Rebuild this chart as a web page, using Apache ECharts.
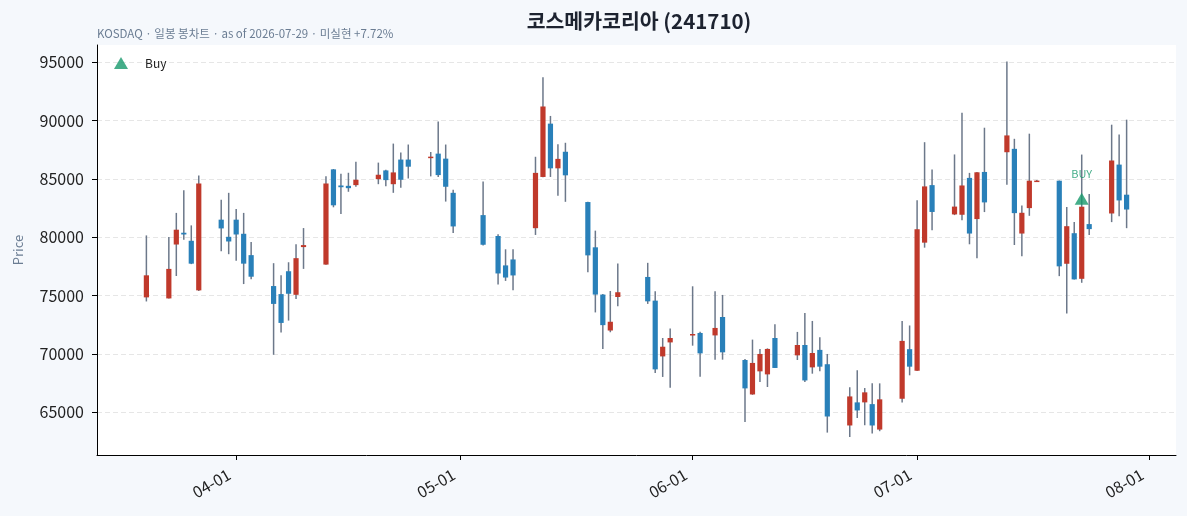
<!DOCTYPE html>
<html>
<head>
<meta charset="UTF-8">
<title>코스메카코리아 (241710)</title>
<script src="https://cdn.jsdelivr.net/npm/echarts@6/dist/echarts.min.js"></script>
<style>
  html, body { margin: 0; padding: 0; background: #f5f8fc; }
  #main { width: 1187px; height: 516px; }
</style>
</head>
<body>
<div id="main"></div>
<script type="text/javascript">
// 일봉 데이터
var dates = ['2026-03-20','2026-03-23','2026-03-24','2026-03-25','2026-03-26','2026-03-27','2026-03-30','2026-03-31',
  '2026-04-01','2026-04-02','2026-04-03','2026-04-06','2026-04-07','2026-04-08','2026-04-09','2026-04-10',
  '2026-04-13','2026-04-14','2026-04-15','2026-04-16','2026-04-17','2026-04-20','2026-04-21','2026-04-22',
  '2026-04-23','2026-04-24','2026-04-27','2026-04-28','2026-04-29','2026-04-30','2026-05-04','2026-05-06',
  '2026-05-07','2026-05-08','2026-05-11','2026-05-12','2026-05-13','2026-05-14','2026-05-15','2026-05-18',
  '2026-05-19','2026-05-20','2026-05-21','2026-05-22','2026-05-26','2026-05-27','2026-05-28','2026-05-29',
  '2026-06-01','2026-06-02','2026-06-04','2026-06-05','2026-06-08','2026-06-09','2026-06-10','2026-06-11',
  '2026-06-12','2026-06-15','2026-06-16','2026-06-17','2026-06-18','2026-06-19','2026-06-22','2026-06-23',
  '2026-06-24','2026-06-25','2026-06-26','2026-06-29','2026-06-30','2026-07-01','2026-07-02','2026-07-03',
  '2026-07-06','2026-07-07','2026-07-08','2026-07-09','2026-07-10','2026-07-13','2026-07-14','2026-07-15',
  '2026-07-16','2026-07-17','2026-07-20','2026-07-21','2026-07-22','2026-07-23','2026-07-24','2026-07-27',
  '2026-07-28','2026-07-29'];
var opens = [74850,74760,79380,80390,79700,75450,81510,80040,
  81510,80300,78470,75820,75130,77090,75070,79160,
  77660,85820,84440,84410,84470,84980,85730,84550,
  86660,86660,86790,87170,86740,83810,81900,80110,
  77590,78100,80780,85170,89740,85910,87330,83020,
  79140,75090,72010,74880,76600,74570,69790,70990,
  71590,71800,71590,73170,69480,66530,68510,68250,
  71370,69880,70770,68850,70350,69120,63870,65850,
  65850,65700,63520,66160,70410,68570,79540,84470,
  81960,81930,85090,81560,85600,87290,87580,80320,
  82500,84780,84850,77730,80350,76440,81130,82040,
  86230,83650];
var closes = [76740,77290,80650,80240,77740,84610,80760,79640,
  80240,77740,76620,74290,72660,75160,78210,79330,
  84610,82740,84290,84210,84930,85360,84900,85560,
  84930,86050,86910,85330,84330,80930,79360,76900,
  76550,76730,85520,91210,85910,86720,85310,78450,
  75090,72470,72760,75290,74510,68680,70620,71370,
  71710,70050,72230,70140,67050,69230,70000,70430,
  68800,70770,67730,70080,68910,64640,66360,65160,
  66710,63870,66110,71120,68910,80680,84360,82170,
  82630,84440,80320,85570,82990,88730,82070,82100,
  84850,84860,77510,80950,76390,82620,80700,86580,
  83160,82380];
var lows = [74500,74750,76680,79790,77700,75400,78810,78550,
  77980,75990,76400,69930,71830,72860,74700,77290,
  77650,82570,82000,83900,84330,84550,84380,83810,
  84240,85040,85220,85160,83060,80360,79300,75950,
  76260,75460,80200,85150,85170,83560,83040,77010,
  73560,70430,71860,74080,74290,68370,68030,67110,
  70710,68050,69510,69510,64160,66500,67600,67170,
  68790,69480,67600,68310,68520,63260,62890,64520,
  63890,63180,63380,65850,68170,68550,79110,80600,
  81900,81470,79400,78200,82160,84510,79340,78370,
  81840,84760,76670,73460,76380,76100,80200,81300,
  81810,80780];
var highs = [80160,80020,82090,84040,81020,85300,83210,83810,
  82430,82090,79590,77780,76740,77860,79410,80790,
  85240,85850,85450,85530,86480,86400,85790,88030,
  87260,87950,87310,89930,87950,84070,84790,80260,
  78970,78970,86900,93710,90400,87980,88100,83050,
  80570,75140,75400,77760,77810,75370,71370,72190,
  75800,71910,75370,75060,69570,71230,70430,70480,
  72540,71890,73520,72830,71440,70000,67140,68600,
  67080,67480,67480,72820,72440,83180,88150,85820,
  87100,90680,85520,85600,89390,95070,88440,82730,
  88880,84900,84860,82590,81300,87090,83710,89650,
  88810,90080];

// 매수 신호
var buyDates = ['2026-07-23'];
var buyPrices = [83300];

// 축 눈금
var xTickDates = ['2026-04-01','2026-05-01','2026-06-01','2026-07-01','2026-08-01'];
var yTicks = [65000, 70000, 75000, 80000, 85000, 90000, 95000];

var upColor = '#c0392b';
var downColor = '#2980b9';
var wickColor = '#6c788a';
var buyColor = '#17996b';
var DAY = 24 * 3600 * 1000;

function toTime(s) {
  var p = s.split('-');
  return new Date(+p[0], +p[1] - 1, +p[2]).getTime();
}
function pad(n) { return n < 10 ? '0' + n : '' + n; }

var candleData = [];
for (var i = 0; i < dates.length; i++) {
  candleData.push([toTime(dates[i]), opens[i], closes[i], lows[i], highs[i]]);
}
var buyData = [];
for (var j = 0; j < buyDates.length; j++) {
  buyData.push([toTime(buyDates[j]), buyPrices[j]]);
}
var xTicks = xTickDates.map(toTime);

var xMin = toTime(dates[0]) - 6.6 * DAY;
var xMax = toTime(dates[dates.length - 1]) + 6.6 * DAY;

// 심지(회색) + 몸통(상승 빨강 / 하락 파랑)
function renderCandle(params, api) {
  var t = api.value(0);
  var o = api.value(1), c = api.value(2), lo = api.value(3), hi = api.value(4);
  var pO = api.coord([t, o]);
  var pC = api.coord([t, c]);
  var pL = api.coord([t, lo]);
  var pH = api.coord([t, hi]);
  var top = Math.min(pO[1], pC[1]);
  var h = Math.max(Math.abs(pO[1] - pC[1]), 1.5);
  var w = 5.2;
  return {
    type: 'group',
    children: [{
      type: 'line',
      shape: { x1: pL[0], y1: pL[1], x2: pH[0], y2: pH[1] },
      style: { stroke: wickColor, lineWidth: 1.5 }
    }, {
      type: 'rect',
      shape: { x: pO[0] - w / 2, y: top, width: w, height: h },
      style: { fill: c >= o ? upColor : downColor }
    }]
  };
}

var fontFam = "'Noto Sans CJK KR', 'Noto Sans', sans-serif";
var myChart = echarts.init(document.getElementById('main'));

var option = {
  backgroundColor: '#f5f8fc',
  textStyle: { fontFamily: fontFam },
  animation: false,
  title: [{
    text: '코스메카코리아 (241710)',
    left: 634, top: 6, textAlign: 'center',
    textStyle: { fontSize: 20.5, fontWeight: 'bold', color: '#1d2330', fontFamily: fontFam }
  }, {
    text: 'KOSDAQ · 일봉 봉차트 · as of 2026-07-29 · 미실현 +7.72%',
    left: 92, top: 23,
    textStyle: { fontSize: 11.5, fontWeight: 'normal', color: '#6b7d93', fontFamily: fontFam }
  }],
  legend: {
    left: 109, top: 52,
    itemWidth: 14, itemHeight: 12,
    data: [{ name: 'Buy', icon: 'triangle' }],
    textStyle: { fontSize: 12, color: '#222', padding: [0, 0, 0, 12] }
  },
  grid: {
    left: 97, right: 11, top: 45, bottom: 61,
    show: true, backgroundColor: '#ffffff', borderWidth: 0
  },
  xAxis: {
    type: 'value', min: xMin, max: xMax,
    axisLine: { lineStyle: { color: '#000', width: 1 } },
    axisTick: { show: true, customValues: xTicks, length: 5, lineStyle: { color: '#000' } },
    axisLabel: {
      customValues: xTicks, rotate: 30, fontSize: 16, color: '#222', margin: 14,
      padding: [0, 8, 0, 0],
      formatter: function (v) { var d = new Date(v); return pad(d.getMonth() + 1) + '-' + pad(d.getDate()); }
    },
    splitLine: { show: false }
  },
  yAxis: {
    type: 'value', min: 61340, max: 96480,
    name: 'Price', nameLocation: 'middle', nameGap: 72,
    nameTextStyle: { fontSize: 13, color: '#6b7d93' },
    axisLine: { show: true, lineStyle: { color: '#000', width: 1 } },
    axisTick: { show: true, customValues: yTicks, length: 5, lineStyle: { color: '#000' } },
    axisLabel: {
      customValues: yTicks, fontSize: 16, color: '#222', margin: 13,
      formatter: function (v) { return String(v); }
    },
    splitLine: { show: true, lineStyle: { color: '#e6e6e6', type: [5, 3], width: 1 } }
  },
  series: [{
    name: 'OHLC',
    type: 'custom',
    renderItem: renderCandle,
    encode: { x: 0, y: [1, 2, 3, 4] },
    data: candleData
  }, {
    name: 'Buy',
    type: 'scatter',
    symbol: 'triangle',
    symbolSize: [14, 12],
    itemStyle: { color: buyColor },
    label: {
      show: true, position: 'top', distance: 13, formatter: 'BUY',
      color: buyColor, fontSize: 11
    },
    data: buyData,
    z: 5
  }]
};

myChart.setOption(option);
</script>
</body>
</html>
